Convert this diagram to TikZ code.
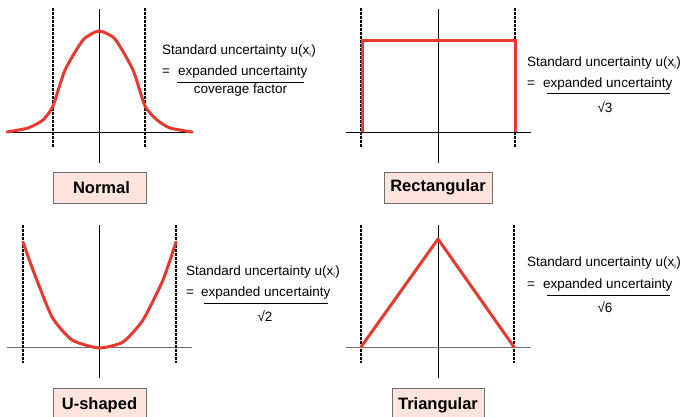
\documentclass[tikz,border=0pt]{standalone}
\usepackage{fontspec}
\setmainfont{Liberation Sans}
\definecolor{curvered}{HTML}{E8392F}
\definecolor{boxfill}{HTML}{FDE4DC}
\definecolor{boxline}{HTML}{707070}
\definecolor{axisgray}{HTML}{707070}
\begin{document}
\begin{tikzpicture}[x=1pt,y=-1pt,
  axis/.style={line width=0.9pt,black},
  grayaxis/.style={line width=1pt,axisgray},
  limit/.style={line width=1.3pt,black,dash pattern=on 3pt off 1pt},
  curve/.style={line width=3pt,curvered,line join=round,line cap=round},
  labelbox/.style={draw=boxline,fill=boxfill,line width=1pt,font=\fontsize{16.5}{18}\selectfont\bfseries,inner sep=0pt},
  formula/.style={font=\fontsize{13.5}{15}\selectfont,inner sep=0pt,anchor=west},
  fracline/.style={line width=0.9pt,black}]
\clip (0,0) rectangle (685,416);
\fill[white] (0,0) rectangle (685,416);

% ---------- Normal ----------
\draw[axis] (7,132) -- (192,132);
\draw[axis] (99,9) -- (99,163);
\draw[limit] (53,8) -- (53,147);
\draw[limit] (145,8) -- (145,147);
\draw[curve] plot[smooth,tension=0.35] coordinates {(7,132) (28,128) (43,120) (53,106) (65,70) (83,40) (99,31) (115,39) (133,70) (145,106) (157,120) (170,128) (192,132)};
\node[labelbox,minimum width=93pt,minimum height=31pt] (nbox) at (99.5,187.5) {\hspace{4pt}Normal};
\node[formula] (n1) at (162,51) {Standard uncertainty u(x\textsubscript{\scriptsize i})};
\node[formula] (neq) at (162,72) {=};
\node[formula] (n2) at (178,72) {expanded uncertainty};
\draw[fracline] (177,82) -- (304,82);
\node[formula,anchor=center] (n3) at (240.5,90) {coverage factor};

% ---------- Rectangular ----------
\draw[axis] (346,132) -- (531,132);
\draw[axis] (438,9) -- (438,163);
\draw[limit] (361,8) -- (361,147);
\draw[limit] (515,8) -- (515,147);
\draw[curve,line cap=butt,line join=miter] (362,132) -- (362,40) -- (515,40) -- (515,132);
\node[labelbox,minimum width=108pt,minimum height=31pt] (rbox) at (438,187.5) {Rectangular};
\node[formula] (r1) at (527,63) {Standard uncertainty u(x\textsubscript{\scriptsize i})};
\node[formula] (req) at (527,84) {=};
\node[formula] (r2) at (543,84) {expanded uncertainty};
\draw[fracline] (547,93) -- (670,93);
\node[formula,anchor=center] (r3) at (605,107) {√3};

% ---------- U-shaped ----------
\draw[grayaxis] (7,347) -- (192,347);
\draw[axis] (99,225) -- (99,378);
\draw[limit] (23,225) -- (23,363);
\draw[limit] (176,225) -- (176,363);
\draw[curve] plot[smooth,tension=0.35] coordinates {(23,242) (33,270) (52,317) (72,340) (99,348) (123,342) (143,320) (163,280) (176,242)};
\node[labelbox,minimum width=93pt,minimum height=34pt] (ubox) at (99.5,405) {U-shaped};
\node[formula] (u1) at (186,272) {Standard uncertainty u(x\textsubscript{\scriptsize i})};
\node[formula] (ueq) at (186,293) {=};
\node[formula] (u2) at (201,293) {expanded uncertainty};
\draw[fracline] (204,303) -- (328,303);
\node[formula,anchor=center] (u3) at (265,316) {√2};

% ---------- Triangular ----------
\draw[grayaxis] (346,347) -- (531,347);
\draw[axis] (438,225) -- (438,378);
\draw[limit] (361,225) -- (361,363);
\draw[limit] (514,225) -- (514,363);
\draw[curve] (361,347) -- (438,239) -- (514,347);
\node[labelbox,minimum width=92pt,minimum height=34pt] (tbox) at (438,405) {Triangular};
\node[formula] (t1) at (527,263) {Standard uncertainty u(x\textsubscript{\scriptsize i})};
\node[formula] (teq) at (527,285) {=};
\node[formula] (t2) at (543,285) {expanded uncertainty};
\draw[fracline] (547,295) -- (670,295);
\node[formula,anchor=center] (t3) at (605,307) {√6};
\end{tikzpicture}
\end{document}
